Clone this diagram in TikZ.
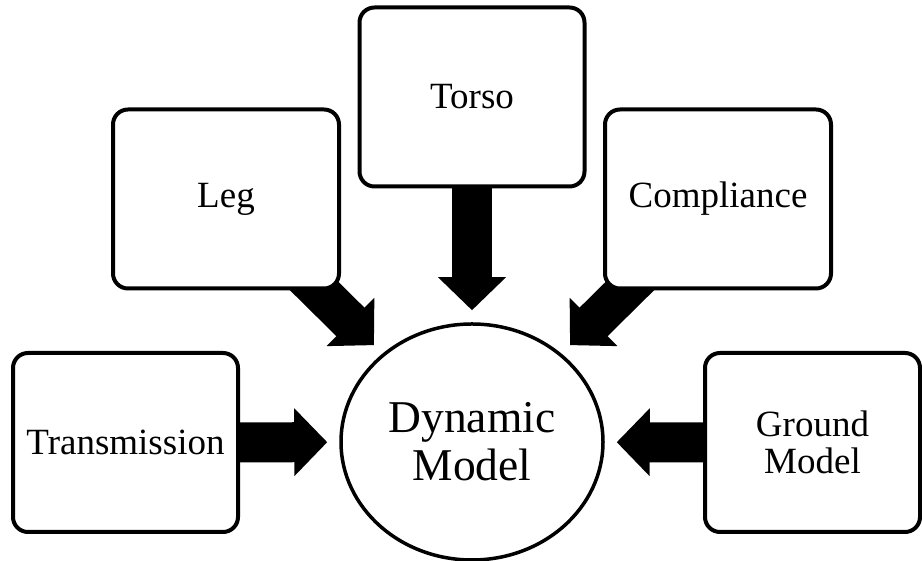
\documentclass[tikz,border=0pt]{standalone}
\usepackage{fontspec}
\setmainfont{Liberation Serif}
\usetikzlibrary{arrows.meta,shapes.geometric,backgrounds}
\tikzset{
  part/.style={draw, line width=4pt, rounded corners=15pt, fill=white, inner sep=0pt, align=center,
    minimum width=225pt, minimum height=179pt, font=\fontsize{37}{37}\selectfont},
  core/.style={draw, ellipse, line width=3.5pt, fill=white, inner sep=0pt, align=center,
    minimum width=262pt, minimum height=236pt, font=\fontsize{45.5}{48}\selectfont},
  feed/.style={line width=40pt, -{Triangle[width=66pt,length=33pt]}, shorten >=12pt}
}

\begin{document}
\begin{tikzpicture}[x=1pt, y=1pt]
\useasboundingbox (0,0) rectangle (922,561);
\node[core] (dyn) at (472,119) {Dynamic\\Model};
\node[part] (torso) at (472,464) {Torso};
\node[part, minimum width=226pt] (leg) at (226,362) {Leg};
\node[part, minimum width=226pt] (comp) at (718,362) {Compliance};
\node[part] (trans) at (125.5,118.5) {Transmission};
\node[part, minimum width=215pt] (ground) at (812.5,118.5) {Ground\\Model};
% block arrows sit under the boxes
\begin{scope}[on background layer]
  \foreach \src in {torso,leg,comp,trans,ground}
    \draw[feed] (\src.center) -- (dyn);
\end{scope}
\end{tikzpicture}
\end{document}
